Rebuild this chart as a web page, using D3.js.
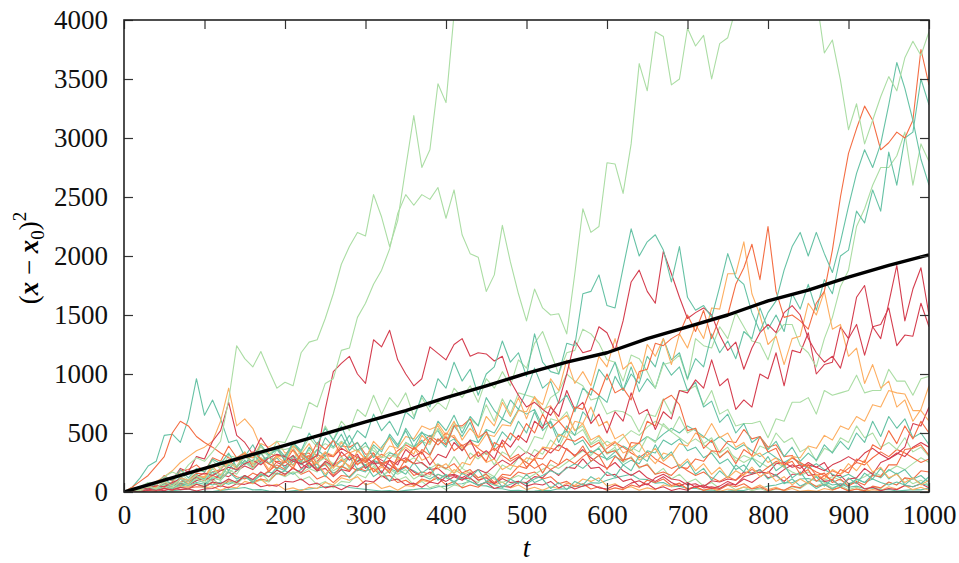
<!DOCTYPE html>
<html>
<head>
<meta charset="utf-8">
<script src="https://cdn.jsdelivr.net/npm/d3@7"></script>
<style>
    body { margin: 0; background: #fff; }
    text { font-family: "Liberation Serif", "DejaVu Serif", serif; }
</style>
</head>
<body>
<script>
// Squared displacement of single random walkers, sampled every 10 steps,
// plus the ensemble mean (black). Values read off the reference plot.
var tValues = d3.range(0, 1001, 10);
var xTicks = [0, 100, 200, 300, 400, 500, 600, 700, 800, 900, 1000];
var yTicks = [0, 500, 1000, 1500, 2000, 2500, 3000, 3500, 4000];

var meanT = [0, 50, 100, 150, 200, 250, 300, 350, 400, 450, 500,
             550, 600, 650, 700, 750, 800, 850, 900, 950, 1000];
var meanValues = [0, 100, 200, 300, 395, 495, 595, 690, 800, 900, 1005,
                  1100, 1180, 1300, 1400, 1500, 1620, 1710, 1820, 1920, 2010];

// light green walkers
var greenA = [
    0, 20, 45, 80, 60, 130, 170, 140, 230, 290,
    260, 340, 430, 780, 1240, 1130, 1060, 1190, 1030, 880,
    930, 900, 1180, 1270, 1290, 1470, 1680, 1930, 2080, 2200,
    2170, 2520, 2330, 2080, 2300, 2750, 3190, 2750, 2900, 3460,
    3300, 4050, 4400, 4700, 4900, 5100, 5300, 5000, 5200, 5500,
    5600, 5400, 5700, 5900, 5600, 5800, 6000, 5700, 5500, 5800,
    5600, 5400, 5600, 5300, 5500, 5200, 5400, 5100, 5300, 5000,
    5200, 4900, 5100, 4800, 5000, 4700, 4900, 4600, 4800, 4500,
    4700, 4500, 4600, 4400, 4500, 4300, 4200, 3720, 3830, 3490,
    3070, 3290, 2950, 3150, 3350, 3520, 3400, 3680, 3820, 3700,
    3900];
var greenB = [
    0, 20, 25, 45, 30, 90, 50, 110, 90, 140,
    100, 200, 130, 240, 220, 300, 250, 390, 290, 430,
    420, 560, 540, 760, 720, 920, 960, 1200, 1220, 1480,
    1600, 1760, 1880, 2060, 2360, 2520, 2430, 2520, 2480, 2580,
    2320, 2560, 2180, 2020, 1990, 1700, 1840, 2260, 1950, 1680,
    1450, 1720, 1560, 1500, 1510, 1340, 1850, 2400, 2200, 2250,
    2790, 2780, 2530, 2950, 3630, 3400, 3900, 3860, 3450, 3500,
    3930, 3780, 3870, 3500, 3800, 3850, 4100, 4300, 4500, 4600,
    4700, 4800, 4900, 5000, 4900, 5100, 5200, 5300, 5200, 5400,
    5500, 5400, 5600, 5500, 5700, 5600, 5800, 5700, 5900, 6000,
    6100];
var greenC = [
    0, 20, 10, 45, 25, 60, 35, 85, 60, 110,
    80, 130, 100, 190, 150, 250, 200, 290, 240, 360,
    290, 400, 340, 460, 380, 560, 440, 600, 520, 700,
    640, 820, 660, 800, 720, 840, 640, 800, 680, 760,
    700, 880, 800, 900, 760, 960, 880, 1020, 900, 1120,
    1050, 1260, 1360, 1180, 1000, 1180, 1200, 1380, 1340, 1260,
    1120, 1100, 940, 1160, 1130, 1020, 880, 1080, 1100, 1160,
    950, 1300, 1240, 1220, 1400, 1300, 1520, 1400, 1280, 1260,
    1120, 1340, 1420, 1420, 1240, 1180, 1060, 1300, 1480, 1740,
    1880, 2250, 2400, 2600, 2750, 2750, 2850, 3050, 2600, 2950,
    2800];
var greenD = [
    0, 35, 15, 60, 70, 85, 80, 160, 100, 190,
    170, 270, 190, 310, 290, 340, 230, 330, 320, 370,
    360, 380, 260, 360, 250, 290, 240, 300, 200, 290,
    270, 380, 290, 310, 290, 420, 380, 430, 400, 540,
    430, 580, 540, 620, 560, 740, 600, 790, 660, 840,
    820, 800, 660, 800, 850, 1000, 940, 900, 780, 800,
    660, 690, 680, 640, 510, 660, 640, 790, 660, 860,
    860, 900, 740, 860, 660, 700, 560, 580, 580, 600,
    460, 620, 600, 760, 760, 800, 660, 860, 820, 840,
    860, 990, 840, 860, 860, 1040, 940, 940, 820, 960,
    980];
var greenE = [
    0, 14, 3, 25, 10, 45, 20, 50, 25, 70,
    35, 90, 50, 110, 65, 140, 80, 160, 95, 190,
    150, 170, 160, 200, 170, 260, 180, 220, 190, 290,
    200, 240, 130, 190, 150, 190, 110, 150, 130, 230,
    190, 300, 200, 330, 280, 340, 230, 340, 300, 390,
    330, 470, 450, 620, 600, 680, 520, 560, 410, 470,
    330, 380, 260, 380, 340, 470, 420, 580, 510, 640,
    500, 540, 410, 460, 330, 380, 260, 310, 280, 390,
    360, 500, 420, 460, 340, 380, 260, 370, 340, 460,
    420, 560, 460, 500, 380, 420, 360, 460, 340, 380,
    300];
var greenF = [
    0, 10, 12, 18, 15, 45, 20, 60, 45, 70,
    50, 110, 60, 80, 70, 130, 80, 100, 85, 160,
    130, 170, 100, 130, 60, 90, 35, 90, 80, 150,
    120, 220, 130, 180, 100, 130, 60, 90, 35, 60,
    20, 60, 45, 110, 80, 170, 130, 230, 190, 290,
    250, 360, 320, 440, 380, 520, 480, 530, 400, 440,
    320, 360, 250, 300, 200, 240, 150, 200, 110, 150,
    80, 110, 50, 80, 30, 60, 20, 40, 10, 30,
    5, 25, 15, 45, 30, 75, 50, 80, 35, 55,
    20, 40, 10, 45, 30, 80, 60, 120, 70, 100,
    60];
var greenG = [
    0, 8, 20, 40, 28, 55, 80, 60, 95, 130,
    105, 150, 190, 160, 220, 260, 230, 280, 240, 200,
    250, 290, 340, 300, 360, 410, 370, 430, 390, 340,
    390, 350, 300, 340, 290, 250, 290, 240, 200, 240,
    200, 160, 200, 160, 120, 150, 110, 80, 110, 140,
    110, 150, 190, 230, 200, 250, 300, 350, 310, 380,
    430, 390, 460, 520, 480, 550, 600, 560, 510, 460,
    410, 450, 400, 350, 300, 340, 290, 250, 290, 250,
    210, 250, 210, 170, 140, 170, 130, 100, 130, 100,
    70, 100, 130, 170, 140, 180, 220, 190, 240, 290,
    250];

// crimson walkers
var redA = [
    0, 15, 35, 25, 55, 45, 80, 110, 90, 130,
    160, 140, 180, 210, 190, 240, 270, 230, 290, 320,
    300, 260, 240, 270, 310, 700, 1020, 1090, 1150, 1000,
    920, 1290, 1230, 1370, 1120, 1000, 900, 960, 1230, 1175,
    1120, 1250, 1300, 1150, 1180, 1170, 1110, 1150, 940, 820,
    720, 760, 700, 650, 760, 1000, 1280, 1180, 1200, 1400,
    1350, 1200, 1450, 1780, 1880, 1700, 1600, 2040, 1850, 1650,
    1470, 1520, 1560, 1500, 1330, 1200, 1270, 1040, 1220, 1350,
    1420, 1350, 1520, 1580, 1500, 1300, 1180, 1100, 1150, 1050,
    1300, 1650, 1750, 1400, 1300, 1600, 1920, 1450, 1720, 1900,
    1500];
var redB = [
    0, 25, 8, 45, 60, 120, 100, 200, 170, 300,
    280, 430, 520, 760, 480, 420, 320, 460, 360, 380,
    260, 310, 200, 250, 180, 260, 220, 340, 270, 320,
    200, 260, 160, 270, 230, 360, 300, 340, 230, 320,
    290, 420, 350, 440, 300, 350, 280, 440, 380, 480,
    420, 600, 540, 720, 640, 860, 700, 760, 580, 660,
    500, 680, 600, 840, 660, 700, 530, 680, 620, 860,
    840, 950, 880, 1120, 900, 960, 700, 780, 720, 1000,
    960, 1180, 900, 1200, 1180, 1350, 1000, 1080, 1100, 1400,
    1300, 1420, 1160, 1400, 1420, 1560, 1240, 1330, 1320, 1600,
    1400];
var redC = [
    0, 12, 5, 22, 14, 30, 18, 40, 26, 65,
    45, 85, 70, 110, 80, 140, 105, 170, 130, 185,
    150, 200, 165, 240, 180, 200, 130, 190, 175, 260,
    300, 240, 250, 190, 260, 290, 240, 250, 190, 200,
    140, 150, 120, 160, 100, 120, 70, 115, 80, 90,
    50, 70, 60, 90, 35, 60, 25, 50, 65, 35,
    25, 60, 35, 75, 95, 60, 120, 150, 110, 100,
    60, 70, 35, 45, 30, 70, 60, 130, 150, 170,
    160, 240, 250, 210, 230, 140, 150, 90, 100, 50,
    110, 120, 200, 150, 250, 280, 320, 380, 580, 560,
    720];
var redD = [
    0, 10, 2, 15, 22, 10, 35, 20, 25, 8,
    25, 30, 55, 35, 70, 65, 85, 45, 60, 50,
    90, 85, 110, 60, 75, 35, 50, 20, 55, 45,
    95, 85, 140, 95, 110, 60, 75, 40, 85, 70,
    130, 140, 110, 120, 60, 80, 30, 50, 40, 85,
    80, 130, 120, 190, 140, 210, 200, 280, 200, 210,
    140, 150, 90, 110, 50, 70, 25, 45, 12, 30,
    15, 50, 45, 95, 85, 110, 100, 170, 160, 190,
    120, 140, 90, 150, 150, 230, 210, 250, 140, 140,
    70, 80, 25, 40, 10, 30, 20, 55, 45, 70,
    35];
var redE = [
    0, 10, 25, 18, 40, 30, 55, 75, 60, 95,
    120, 100, 150, 130, 180, 220, 190, 260, 300, 250,
    220, 280, 240, 200, 260, 330, 300, 370, 330, 290,
    250, 310, 270, 230, 180, 220, 170, 130, 170, 120,
    90, 130, 100, 150, 190, 160, 220, 270, 230, 290,
    340, 300, 370, 330, 400, 360, 310, 360, 290, 240,
    200, 250, 180, 140, 180, 120, 90, 130, 80, 50,
    80, 40, 60, 30, 50, 90, 60, 110, 80, 130,
    170, 140, 190, 230, 200, 250, 210, 180, 230, 260,
    300, 260, 330, 370, 320, 280, 330, 300, 380, 420,
    380];

// orange-red walkers
var vermA = [
    0, 40, 90, 140, 220, 300, 500, 600, 560, 470,
    420, 380, 330, 290, 260, 300, 340, 280, 240, 200,
    260, 200, 330, 280, 420, 360, 440, 300, 340, 230,
    290, 170, 230, 160, 300, 250, 380, 320, 460, 400,
    470, 350, 400, 280, 340, 260, 420, 380, 500, 440,
    580, 500, 660, 540, 600, 520, 720, 700, 880, 820,
    1000, 840, 880, 780, 1020, 1040, 1260, 1240, 1300, 1340,
    1500, 1360, 1540, 1300, 1480, 1500, 1760, 1900, 2100, 1800,
    2250, 1700, 1480, 1500, 1450, 1380, 1600, 1700, 2050, 2500,
    2870, 3080, 3270, 3150, 2900, 2960, 3050, 3000, 3150, 3750,
    3450];
var vermB = [
    0, 30, 45, 70, 60, 140, 90, 180, 190, 230,
    170, 290, 260, 390, 290, 330, 210, 280, 170, 260,
    250, 360, 270, 310, 190, 240, 140, 220, 180, 300,
    260, 330, 220, 270, 170, 280, 240, 360, 310, 450,
    400, 560, 560, 620, 460, 510, 350, 420, 280, 320,
    210, 280, 160, 270, 230, 370, 300, 390, 260, 310,
    190, 300, 260, 420, 410, 600, 560, 780, 820, 740,
    520, 540, 370, 440, 290, 350, 240, 360, 310, 470,
    340, 370, 230, 260, 150, 190, 90, 140, 100, 190,
    160, 280, 250, 400, 360, 520, 410, 560, 450, 600,
    500];
var vermC = [
    0, 15, 20, 50, 25, 70, 80, 85, 100, 160,
    150, 170, 190, 270, 210, 300, 290, 330, 240, 310,
    310, 400, 320, 330, 240, 310, 300, 390, 380, 420,
    320, 330, 240, 270, 190, 220, 140, 170, 150, 230,
    200, 240, 160, 190, 120, 150, 80, 150, 140, 220,
    200, 290, 280, 370, 350, 450, 430, 470, 380, 420,
    330, 350, 270, 290, 210, 230, 150, 170, 140, 210,
    200, 280, 260, 350, 340, 430, 420, 530, 450, 470,
    380, 400, 300, 310, 220, 230, 140, 160, 80, 110,
    50, 90, 60, 140, 130, 230, 230, 360, 370, 400,
    310];
var vermD = [
    0, 8, 10, 14, 6, 30, 15, 38, 32, 45,
    40, 80, 45, 95, 80, 140, 85, 110, 95, 160,
    140, 210, 150, 180, 110, 140, 80, 140, 130, 200,
    180, 200, 130, 140, 80, 100, 55, 110, 90, 120,
    60, 90, 35, 60, 40, 90, 75, 130, 110, 170,
    150, 170, 110, 130, 70, 90, 45, 70, 25, 45,
    15, 35, 20, 60, 40, 100, 80, 110, 55, 75,
    25, 45, 15, 35, 20, 60, 45, 70, 25, 45,
    10, 30, 15, 50, 35, 90, 45, 65, 20, 40,
    8, 25, 10, 50, 35, 85, 60, 120, 110, 180,
    170];
var vermE = [
    0, 18, 8, 30, 50, 35, 70, 55, 90, 120,
    95, 140, 115, 170, 130, 110, 160, 130, 180, 230,
    190, 260, 300, 250, 320, 280, 230, 270, 220, 180,
    220, 270, 320, 280, 350, 400, 360, 420, 480, 430,
    500, 460, 390, 430, 370, 320, 370, 310, 260, 300,
    250, 200, 240, 190, 230, 280, 240, 300, 350, 310,
    370, 420, 380, 330, 290, 340, 280, 240, 200, 230,
    180, 140, 170, 120, 90, 130, 100, 150, 190, 160,
    210, 260, 230, 290, 250, 210, 170, 140, 180, 150,
    200, 250, 230, 290, 340, 300, 360, 330, 290, 250,
    280];

// orange walkers
var amberA = [
    0, 10, 30, 50, 90, 130, 180, 250, 300, 350,
    380, 430, 600, 880, 560, 620, 540, 380, 330, 300,
    300, 220, 320, 230, 250, 150, 230, 210, 320, 240,
    260, 170, 210, 180, 280, 260, 380, 270, 300, 200,
    240, 160, 250, 230, 340, 250, 280, 190, 230, 210,
    290, 270, 380, 370, 490, 460, 600, 580, 720, 560,
    600, 450, 490, 380, 420, 310, 370, 260, 320, 220,
    280, 180, 240, 150, 210, 120, 180, 140, 210, 130,
    170, 90, 130, 60, 110, 70, 150, 110, 190, 150,
    240, 180, 270, 170, 210, 120, 150, 80, 120, 60,
    100];
var amberB = [
    0, 25, 20, 45, 35, 90, 50, 120, 100, 140,
    120, 220, 140, 250, 200, 340, 240, 290, 190, 300,
    250, 390, 320, 410, 280, 340, 200, 280, 210, 350,
    280, 430, 360, 460, 310, 380, 320, 480, 410, 580,
    480, 600, 440, 540, 460, 640, 560, 760, 640, 800,
    620, 800, 740, 960, 860, 1120, 920, 1020, 900, 1150,
    1060, 1300, 1040, 1100, 960, 1250, 1150, 1300, 1080, 1340,
    1220, 1420, 1300, 1560, 1550, 1850, 1850, 2120, 1680, 1500,
    1250, 1320, 1080, 1300, 1320, 1600, 1500, 1700, 1380, 1420,
    1150, 1220, 920, 1080, 880, 940, 720, 780, 600, 700,
    900];
var amberC = [
    0, 25, 5, 45, 40, 60, 55, 110, 70, 140,
    130, 230, 210, 240, 220, 320, 290, 410, 380, 430,
    330, 350, 250, 280, 240, 340, 310, 420, 330, 360,
    270, 310, 290, 390, 370, 470, 450, 560, 530, 560,
    450, 480, 370, 410, 390, 490, 470, 570, 560, 690,
    680, 810, 700, 730, 600, 650, 520, 580, 440, 480,
    390, 430, 330, 360, 270, 310, 240, 330, 310, 410,
    390, 500, 460, 580, 460, 500, 380, 420, 300, 330,
    250, 290, 210, 300, 290, 390, 370, 480, 440, 560,
    530, 640, 600, 740, 720, 860, 840, 830, 690, 690,
    600];
var amberD = [
    0, 8, 6, 25, 10, 35, 30, 50, 40, 70,
    35, 45, 15, 45, 35, 90, 70, 110, 50, 65,
    20, 35, 10, 40, 30, 80, 60, 120, 100, 130,
    60, 80, 30, 50, 15, 55, 45, 100, 80, 150,
    120, 190, 150, 170, 100, 130, 60, 85, 35, 60,
    20, 40, 15, 45, 30, 75, 55, 110, 90, 120,
    50, 70, 30, 45, 15, 35, 20, 60, 45, 70,
    25, 45, 12, 30, 5, 25, 15, 45, 30, 60,
    20, 40, 10, 30, 5, 15, 5, 30, 15, 40,
    10, 25, 5, 20, 10, 45, 25, 55, 20, 40,
    15];

// teal walkers
var tealA = [
    0, 40, 120, 220, 260, 480, 490, 420, 620, 960,
    650, 780, 620, 420, 440, 300, 400, 270, 300, 190,
    280, 230, 320, 210, 240, 130, 240, 200, 300, 190,
    230, 130, 180, 90, 190, 150, 250, 160, 210, 100,
    150, 70, 160, 120, 190, 90, 130, 40, 110, 70,
    150, 80, 110, 30, 80, 20, 90, 60, 130, 90,
    170, 130, 230, 180, 310, 260, 400, 280, 340, 200,
    260, 150, 200, 100, 180, 120, 230, 170, 290, 210,
    300, 180, 230, 120, 170, 80, 130, 50, 110, 40,
    120, 70, 160, 110, 200, 110, 160, 60, 120, 70,
    130];
var tealB = [
    0, 30, 25, 80, 70, 130, 100, 190, 120, 200,
    170, 280, 240, 330, 210, 300, 260, 400, 310, 360,
    270, 420, 350, 500, 400, 540, 440, 560, 400, 520,
    460, 660, 520, 600, 480, 680, 620, 820, 720, 960,
    880, 1100, 940, 1040, 820, 1000, 1060, 1280, 1100, 1180,
    980, 1340, 1100, 1020, 1000, 1260, 1240, 1680, 1700, 1840,
    1580, 1560, 1900, 2230, 2000, 2120, 2180, 2050, 1780, 2080,
    1650, 1540, 1580, 1480, 1740, 2020, 1820, 1760, 1520, 1360,
    1520, 1620, 1880, 2080, 2200, 2000, 2200, 2020, 1860, 2120,
    2420, 2700, 2900, 2750, 2950, 3280, 3640, 3420, 3150, 2820,
    2600];
var tealC = [
    0, 20, 45, 25, 70, 110, 60, 130, 90, 150,
    110, 200, 260, 180, 290, 230, 330, 240, 300, 380,
    300, 420, 330, 260, 360, 300, 440, 380, 480, 350,
    420, 290, 380, 470, 380, 540, 430, 510, 420, 600,
    520, 650, 500, 640, 560, 800, 690, 620, 780, 700,
    860, 1050, 880, 940, 750, 820, 680, 880, 820, 1040,
    950, 1100, 860, 1000, 920, 1150, 1060, 1300, 1120, 1180,
    960, 1130, 1060, 1340, 1180, 1280, 1130, 1360, 1300, 1560,
    1380, 1500, 1360, 1680, 1550, 1760, 1540, 1800, 1680, 2000,
    2050, 2380, 2280, 2560, 2380, 2880, 2600, 3000, 3050, 3500,
    3280];
var tealD = [
    0, 25, 8, 40, 30, 70, 45, 110, 60, 130,
    100, 170, 120, 230, 180, 270, 200, 330, 240, 290,
    200, 310, 250, 380, 300, 460, 380, 490, 350, 420,
    290, 400, 340, 490, 400, 520, 380, 440, 320, 450,
    380, 560, 470, 590, 420, 520, 380, 510, 440, 600,
    500, 680, 520, 590, 420, 560, 480, 680, 600, 820,
    760, 980, 860, 1060, 850, 960, 880, 1100, 990, 1060,
    860, 930, 720, 770, 590, 660, 500, 580, 420, 470,
    360, 430, 300, 380, 260, 330, 270, 400, 330, 430,
    360, 500, 420, 600, 470, 640, 540, 620, 460, 500,
    400];
var tealE = [
    0, 12, 15, 28, 20, 55, 30, 70, 55, 80,
    65, 120, 100, 170, 110, 140, 80, 150, 130, 210,
    180, 270, 230, 290, 200, 230, 160, 190, 120, 190,
    170, 260, 230, 330, 310, 420, 380, 500, 470, 520,
    410, 450, 350, 440, 420, 530, 500, 620, 580, 700,
    660, 700, 560, 600, 470, 520, 400, 440, 330, 370,
    270, 310, 230, 270, 240, 350, 330, 440, 400, 450,
    350, 380, 290, 330, 240, 280, 190, 230, 150, 190,
    110, 150, 70, 110, 50, 80, 30, 65, 25, 70,
    55, 110, 80, 150, 120, 190, 150, 190, 110, 140,
    80];
var tealF = [
    0, 6, 2, 10, 14, 4, 12, 18, 25, 8,
    6, 3, 14, 22, 30, 38, 18, 20, 8, 4,
    2, 10, 18, 26, 34, 45, 50, 62, 38, 30,
    22, 15, 8, 12, 3, 14, 20, 30, 26, 45,
    50, 68, 70, 90, 55, 52, 30, 28, 12, 15,
    5, 8, 14, 12, 28, 26, 48, 50, 78, 75,
    100, 120, 135, 150, 110, 105, 75, 80, 45, 50,
    30, 32, 15, 18, 6, 8, 14, 12, 30, 28,
    50, 60, 80, 78, 110, 115, 95, 90, 60, 70,
    40, 50, 30, 35, 18, 22, 8, 14, 20, 18,
    35];
var tealG = [
    0, 12, 30, 22, 45, 35, 60, 45, 75, 100,
    80, 60, 85, 65, 95, 120, 100, 140, 170, 150,
    180, 150, 190, 230, 200, 250, 210, 260, 300, 260,
    230, 270, 240, 200, 170, 210, 180, 140, 110, 150,
    120, 90, 120, 90, 60, 85, 60, 40, 65, 90,
    70, 110, 140, 180, 150, 200, 240, 200, 260, 310,
    280, 340, 390, 350, 420, 470, 430, 490, 540, 500,
    560, 520, 470, 420, 470, 410, 360, 400, 350, 300,
    340, 290, 250, 290, 240, 200, 240, 190, 150, 120,
    150, 110, 80, 110, 80, 60, 85, 60, 45, 70,
    55];

var palette = {
    red: "#d53e4f", vermilion: "#f46d43", orange: "#fdae61",
    green: "#abdda4", teal: "#66c2a5"
};

// drawing order (first drawn ends up underneath)
var walkers = [
    {values: tealF, color: palette.teal},
    {values: greenF, color: palette.green},
    {values: amberD, color: palette.orange},
    {values: vermD, color: palette.vermilion},
    {values: redD, color: palette.red},
    {values: greenG, color: palette.green},
    {values: tealG, color: palette.teal},
    {values: vermE, color: palette.vermilion},
    {values: redE, color: palette.red},
    {values: greenE, color: palette.green},
    {values: tealE, color: palette.teal},
    {values: redC, color: palette.red},
    {values: vermC, color: palette.vermilion},
    {values: amberC, color: palette.orange},
    {values: greenD, color: palette.green},
    {values: tealD, color: palette.teal},
    {values: tealA, color: palette.teal},
    {values: amberA, color: palette.orange},
    {values: vermB, color: palette.vermilion},
    {values: redB, color: palette.red},
    {values: greenC, color: palette.green},
    {values: tealC, color: palette.teal},
    {values: amberB, color: palette.orange},
    {values: vermA, color: palette.vermilion},
    {values: redA, color: palette.red},
    {values: tealB, color: palette.teal},
    {values: greenB, color: palette.green},
    {values: greenA, color: palette.green}
];

var margin = {top: 20, right: 30, bottom: 71, left: 124},
    width = 959 - margin.left - margin.right,
    height = 563 - margin.top - margin.bottom;

var svg = d3.select("body").append("svg")
    .attr("width", 959)
    .attr("height", 563)
    .append("g")
    .attr("transform", "translate(" + margin.left + "," + margin.top + ")");

var xScale = d3.scaleLinear().domain([0, 1000]).range([0, width]);
var yScale = d3.scaleLinear().domain([0, 4000]).range([height, 0]);

svg.append("clipPath").attr("id", "plotclip")
    .append("rect")
    .attr("width", width)
    .attr("height", height);

var walkLine = d3.line()
    .x(function(d, i) { return xScale(tValues[i]); })
    .y(function(d) { return yScale(d); });

var plot = svg.append("g").attr("clip-path", "url(#plotclip)");

plot.selectAll("path.walk")
    .data(walkers)
    .enter()
    .append("path")
    .attr("class", "walk")
    .attr("d", function(d) { return walkLine(d.values); })
    .attr("fill", "none")
    .attr("stroke", function(d) { return d.color; })
    .attr("stroke-width", 1.1)
    .attr("stroke-linejoin", "round");

var meanLine = d3.line()
    .x(function(d, i) { return xScale(meanT[i]); })
    .y(function(d) { return yScale(d); });

plot.append("path")
    .attr("d", meanLine(meanValues))
    .attr("fill", "none")
    .attr("stroke", "#000")
    .attr("stroke-width", 3.4)
    .attr("stroke-linejoin", "round");

// axes: ticks point inward on all four sides, gnuplot style
var tickLen = 9;

svg.append("g")
    .attr("transform", "translate(0," + height + ")")
    .call(d3.axisBottom(xScale).tickValues(xTicks)
        .tickSize(-tickLen).tickPadding(13).tickFormat(d3.format("d")));
svg.append("g")
    .call(d3.axisTop(xScale).tickValues(xTicks)
        .tickSize(-tickLen).tickFormat(""));
svg.append("g")
    .call(d3.axisLeft(yScale).tickValues(yTicks)
        .tickSize(-tickLen).tickPadding(16).tickFormat(d3.format("d")));
svg.append("g")
    .attr("transform", "translate(" + width + ",0)")
    .call(d3.axisRight(yScale).tickValues(yTicks)
        .tickSize(-tickLen).tickFormat(""));

svg.selectAll(".domain").remove();
svg.selectAll(".tick line").attr("stroke", "#333").attr("stroke-width", 1.2);
svg.selectAll(".tick text")
    .attr("font-family", "'Liberation Serif', serif")
    .attr("font-size", "27px")
    .attr("fill", "#111");

svg.append("rect")
    .attr("width", width)
    .attr("height", height)
    .attr("fill", "none")
    .attr("stroke", "#222")
    .attr("stroke-width", 1.6);

// axis titles
svg.append("text")
    .attr("x", width / 2)
    .attr("y", height + 65)
    .attr("text-anchor", "middle")
    .attr("font-size", "27px")
    .attr("font-style", "italic")
    .text("t");

var ylab = svg.append("text")
    .attr("transform", "translate(" + (38 - margin.left) + "," + 238 + ") rotate(-90)")
    .attr("text-anchor", "middle")
    .attr("font-size", "27px");
ylab.append("tspan").text("(");
ylab.append("tspan").attr("font-weight", "bold").attr("font-style", "italic").text("x");
ylab.append("tspan").text(" \u2212 ");
ylab.append("tspan").attr("font-weight", "bold").attr("font-style", "italic").text("x");
ylab.append("tspan").attr("font-size", "19px").attr("dy", 6).text("0");
ylab.append("tspan").attr("dy", -6).text(")");
ylab.append("tspan").attr("font-size", "19px").attr("dy", -12).text("2");
</script>
</body>
</html>
